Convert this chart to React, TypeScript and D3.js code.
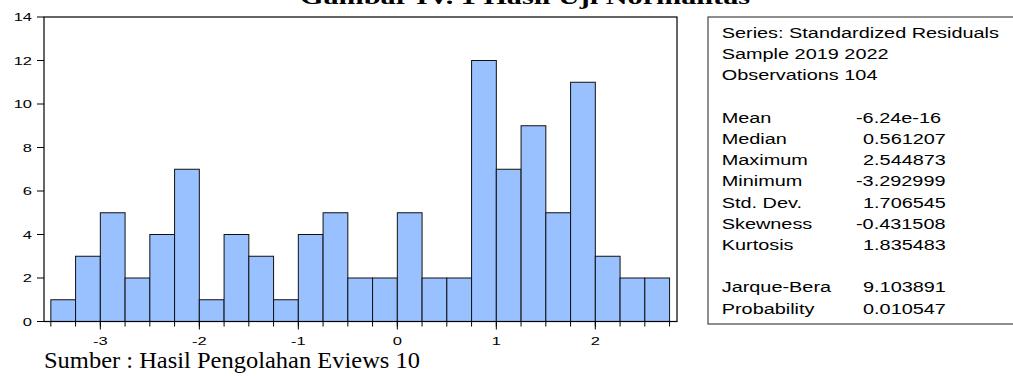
import React from "react";
import * as d3 from "d3";

// histogram of standardized residuals, bin width 0.25 starting at -3.5
const binStarts = [
  -3.5, -3.25, -3, -2.75, -2.5, -2.25, -2, -1.75, -1.5, -1.25, -1, -0.75, -0.5,
  -0.25, 0, 0.25, 0.5, 0.75, 1, 1.25, 1.5, 1.75, 2, 2.25, 2.5,
];
const counts = [
  1, 3, 5, 2, 4, 7, 1, 4, 3, 1, 4, 5, 2, 2, 5, 2, 2, 12, 7, 9, 5, 11, 3, 2, 2,
];
const binWidth = 0.25;
const yTicks = [0, 2, 4, 6, 8, 10, 12, 14];
const xTicks = [-3, -2, -1, 0, 1, 2];

const statLabels = [
  "Series: Standardized Residuals",
  "Sample 2019 2022",
  "Observations 104",
  "",
  "Mean",
  "Median",
  "Maximum",
  "Minimum",
  "Std. Dev.",
  "Skewness",
  "Kurtosis",
  "",
  "Jarque-Bera",
  "Probability",
];
const statValues = [
  "", "", "", "",
  "-6.24e-16",
  "0.561207",
  "2.544873",
  "-3.292999",
  "1.706545",
  "-0.431508",
  "1.835483",
  "",
  "9.103891",
  "0.010547",
];

const title = "Gambar IV. 1 Hasil Uji Normalitas";
const caption = "Sumber : Hasil Pengolahan Eviews 10";

const W = 1013;
const H = 376;
const plot = { left: 44, right: 677, top: 17, bottom: 321.5 };
const sans = "'Liberation Sans', Arial, sans-serif";
const serif = "'Liberation Serif', 'Times New Roman', serif";

export default function App() {
  const x = d3.scaleLinear().domain([-3.569, 2.825]).range([plot.left, plot.right]);
  const y = d3.scaleLinear().domain([0, 14]).range([plot.bottom, plot.top]);

  const edges = d3.range(0, binStarts.length + 1).map((i) => -3.5 + i * binWidth);

  return (
    <svg
      width={W}
      height={H}
      style={{ position: "absolute", left: 0, top: 0, background: "#fff" }}
    >
      {/* cut-off title */}
      <text
        x={300}
        y={3.5}
        textLength={450}
        lengthAdjust="spacingAndGlyphs"
        style={{ fontFamily: serif, fontSize: 22, fontWeight: "bold" }}
      >
        {title}
      </text>

      {/* bars */}
      {counts.map((c, i) => (
        <rect
          key={i}
          x={x(binStarts[i])}
          y={y(c)}
          width={x(binStarts[i] + binWidth) - x(binStarts[i])}
          height={y(0) - y(c)}
          fill="#99c0ff"
          stroke="#111"
          strokeWidth={1}
        />
      ))}

      {/* frame */}
      <rect
        x={plot.left}
        y={plot.top}
        width={plot.right - plot.left}
        height={plot.bottom - plot.top}
        fill="none"
        stroke="#000"
        strokeWidth={1.2}
      />

      {/* y axis */}
      {yTicks.map((t) => (
        <g key={t}>
          <line x1={plot.left - 7} x2={plot.left} y1={y(t)} y2={y(t)} stroke="#000" />
          <text
            transform={`translate(32,${y(t) + 4}) scale(1.5,1)`}
            textAnchor="end"
            style={{ fontFamily: sans, fontSize: 11 }}
          >
            {t}
          </text>
        </g>
      ))}

      {/* x axis */}
      {edges.map((e, i) => (
        <line key={i} x1={x(e)} x2={x(e)} y1={plot.bottom} y2={plot.bottom + 5} stroke="#000" />
      ))}
      {xTicks.map((t) => (
        <g key={t}>
          <line x1={x(t)} x2={x(t)} y1={plot.bottom} y2={plot.bottom + 8} stroke="#000" />
          <text
            transform={`translate(${x(t)},${plot.bottom + 23}) scale(1.5,1)`}
            textAnchor="middle"
            style={{ fontFamily: sans, fontSize: 11 }}
          >
            {t}
          </text>
        </g>
      ))}

      {/* stats box */}
      <rect x={708} y={17} width={320} height={307} fill="#fff" stroke="#444" strokeWidth={1.2} />
      {statLabels.map((s, i) => (
        <g key={i}>
          {s && (
            <text
              transform={`translate(721.7,${38 + i * 21.2}) scale(1.42,1)`}
              style={{ fontFamily: sans, fontSize: 14 }}
            >
              {s}
            </text>
          )}
          {statValues[i] && (
            <text
              transform={`translate(${statValues[i].startsWith("-") ? 856 : 863},${38 + i * 21.2}) scale(1.42,1)`}
              style={{ fontFamily: sans, fontSize: 14 }}
            >
              {statValues[i]}
            </text>
          )}
        </g>
      ))}

      {/* caption */}
      <text
        x={44}
        y={368}
        textLength={376}
        lengthAdjust="spacingAndGlyphs"
        style={{ fontFamily: serif, fontSize: 23 }}
      >
        {caption}
      </text>
    </svg>
  );
}
